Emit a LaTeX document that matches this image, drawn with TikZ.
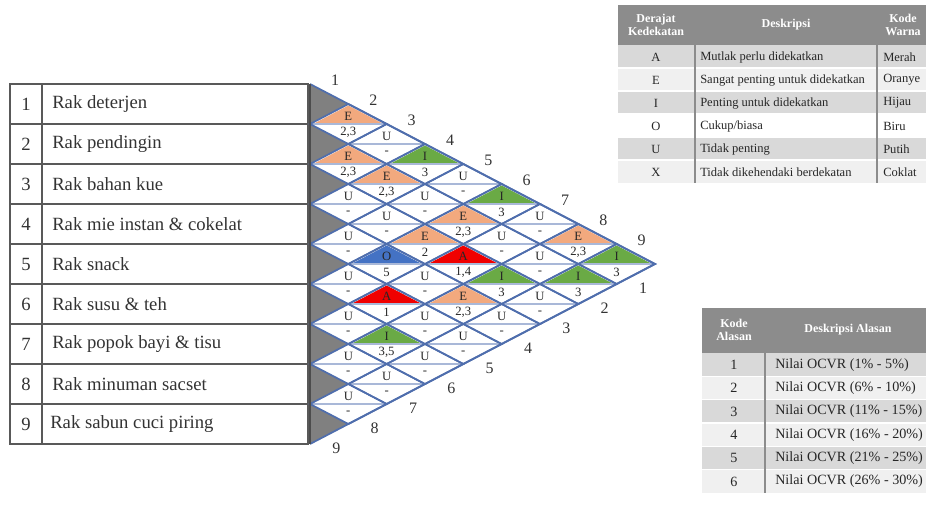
\documentclass[tikz,border=0pt]{standalone}
\usepackage{fontspec}
\setmainfont{Liberation Serif}
\usepackage{tikz}
\usetikzlibrary{calc, positioning}
\definecolor{ARCgrid}{HTML}{4F6EAD}
\definecolor{ARCmid}{HTML}{A9B8D8}
\definecolor{ARCshade}{HTML}{808080}
\definecolor{ARCa}{HTML}{F00000}
\definecolor{ARCe}{HTML}{F2A97E}
\definecolor{ARCi}{HTML}{6AAA45}
\definecolor{ARCo}{HTML}{4472C4}
\definecolor{TABhead}{HTML}{8C8C8C}
\definecolor{TABdark}{HTML}{D9D9D9}
\definecolor{TABlight}{HTML}{F0F0F0}
\tikzset{
  celltext/.style={inner sep=0pt, font=\fontsize{9.5}{10}\selectfont, text=black!85},
  raknum/.style={inner sep=0pt, font=\fontsize{14}{16}\selectfont, text=black!80},
  raktext/.style={raknum, anchor=west},
  edgenum/.style={inner sep=0pt, font=\fontsize{12}{14}\selectfont, text=black!80},
  tabline/.style={black!65, line width=1.1pt},
  leghead/.style={inner sep=0pt, align=center, text=white, font=\fontsize{9}{10}\selectfont\bfseries},
  legtext/.style={inner sep=0pt, font=\fontsize{9.4}{11}\selectfont, text=black!85},
  alasantext/.style={legtext, font=\fontsize{10.6}{12}\selectfont},
}
% one diamond of the chart: pair #1-#2, fill #3, degree #4, reason #5
\newcommand{\arcpair}[5]{%
  \begin{scope}[shift={({310+38.33*(#2-#1)},{84+20*(#1+#2-1)})}]
    \fill[#3] (-33,-1.2) -- (0,-18.5) -- (33,-1.2) -- cycle;
    \draw[ARCmid, line width=1.1pt] (-38.33,0) -- (38.33,0);
    \draw[ARCgrid, line width=1.3pt] (-38.33,0) -- (0,-20) -- (38.33,0) -- (0,20) -- cycle;
    \node[celltext] (deg#1#2) at (0,-8) {#4};
    \node[celltext] (rsn#1#2) at (0,8.5) {#5};
  \end{scope}}

\begin{document}
\begin{tikzpicture}[x=0.75pt, y=-0.75pt]
  \useasboundingbox (0,0) rectangle (926,519);

  % list of racks
  \draw[tabline] (10,84) rectangle (308,444);
  \draw[tabline] (42,84) -- (42,444);
  \draw[tabline] (10,124) -- (308,124) (10,164) -- (308,164) (10,204) -- (308,204)
    (10,244) -- (308,244) (10,284) -- (308,284) (10,324) -- (308,324)
    (10,364) -- (308,364) (10,404) -- (308,404);
  \node[raknum] (no1) at (26,104) {1};
  \node[raktext] (rak1) at (52,104) {Rak deterjen};
  \node[raknum] (no2) at (26,144) {2};
  \node[raktext] (rak2) at (52,144) {Rak pendingin};
  \node[raknum] (no3) at (26,184) {3};
  \node[raktext] (rak3) at (52,184) {Rak bahan kue};
  \node[raknum] (no4) at (26,224) {4};
  \node[raktext] (rak4) at (52,224) {Rak mie instan \& cokelat};
  \node[raknum] (no5) at (26,264) {5};
  \node[raktext] (rak5) at (52,264) {Rak snack};
  \node[raknum] (no6) at (26,304) {6};
  \node[raktext] (rak6) at (52,304) {Rak susu \& teh};
  \node[raknum] (no7) at (26,344) {7};
  \node[raktext] (rak7) at (52,344) {Rak popok bayi \& tisu};
  \node[raknum] (no8) at (26,384) {8};
  \node[raktext] (rak8) at (52,384) {Rak minuman sacset};
  \node[raknum] (no9) at (26,424) {9};
  \node[raktext] (rak9) at (50,424) {Rak sabun cuci piring};

  % shaded row tips
  \fill[ARCshade] (310,84) -- (348.33,104) -- (310,124) -- (348.33,144) -- (310,164)
    -- (348.33,184) -- (310,204) -- (348.33,224) -- (310,244) -- (348.33,264)
    -- (310,284) -- (348.33,304) -- (310,324) -- (348.33,344) -- (310,364)
    -- (348.33,384) -- (310,404) -- (348.33,424) -- (310,444) -- cycle;

  % relationship diamonds
  \arcpair{1}{2}{ARCe}{E}{2,3}
  \arcpair{1}{3}{white}{U}{-}
  \arcpair{1}{4}{ARCi}{I}{3}
  \arcpair{1}{5}{white}{U}{-}
  \arcpair{1}{6}{ARCi}{I}{3}
  \arcpair{1}{7}{white}{U}{-}
  \arcpair{1}{8}{ARCe}{E}{2,3}
  \arcpair{1}{9}{ARCi}{I}{3}
  \arcpair{2}{3}{ARCe}{E}{2,3}
  \arcpair{2}{4}{ARCe}{E}{2,3}
  \arcpair{2}{5}{white}{U}{-}
  \arcpair{2}{6}{ARCe}{E}{2,3}
  \arcpair{2}{7}{white}{U}{-}
  \arcpair{2}{8}{white}{U}{-}
  \arcpair{2}{9}{ARCi}{I}{3}
  \arcpair{3}{4}{white}{U}{-}
  \arcpair{3}{5}{white}{U}{-}
  \arcpair{3}{6}{ARCe}{E}{2}
  \arcpair{3}{7}{ARCa}{A}{1,4}
  \arcpair{3}{8}{ARCi}{I}{3}
  \arcpair{3}{9}{white}{U}{-}
  \arcpair{4}{5}{white}{U}{-}
  \arcpair{4}{6}{ARCo}{O}{5}
  \arcpair{4}{7}{white}{U}{-}
  \arcpair{4}{8}{ARCe}{E}{2,3}
  \arcpair{4}{9}{white}{U}{-}
  \arcpair{5}{6}{white}{U}{-}
  \arcpair{5}{7}{ARCa}{A}{1}
  \arcpair{5}{8}{white}{U}{-}
  \arcpair{5}{9}{white}{U}{-}
  \arcpair{6}{7}{white}{U}{-}
  \arcpair{6}{8}{ARCi}{I}{3,5}
  \arcpair{6}{9}{white}{U}{-}
  \arcpair{7}{8}{white}{U}{-}
  \arcpair{7}{9}{white}{U}{-}
  \arcpair{8}{9}{white}{U}{-}

  % outline of the chart
  \draw[ARCgrid, line width=1.3pt] (310,84) -- (348.33,104) (310,444) -- (348.33,424);
  \draw[ARCgrid, line width=1.4pt] (348.33,104) -- (655,264) -- (348.33,424);
  \draw[black!70, line width=1.1pt] (310,84) -- (310,444);

  % numbers along the edges
  \node[edgenum] (top1) at (335,80) {1};
  \node[edgenum] (top2) at (373.3,100) {2};
  \node[edgenum] (top3) at (411.7,120) {3};
  \node[edgenum] (top4) at (450,140) {4};
  \node[edgenum] (top5) at (488.3,160) {5};
  \node[edgenum] (top6) at (526.7,180) {6};
  \node[edgenum] (top7) at (565,200) {7};
  \node[edgenum] (top8) at (603.3,220) {8};
  \node[edgenum] (top9) at (641.7,240) {9};
  \node[edgenum] (bot1) at (643,288) {1};
  \node[edgenum] (bot2) at (604.7,308) {2};
  \node[edgenum] (bot3) at (566.3,328) {3};
  \node[edgenum] (bot4) at (528,348) {4};
  \node[edgenum] (bot5) at (489.7,368) {5};
  \node[edgenum] (bot6) at (451.3,388) {6};
  \node[edgenum] (bot7) at (413,408) {7};
  \node[edgenum] (bot8) at (374.7,428) {8};
  \node[edgenum] (bot9) at (336.3,448) {9};

  % legend of degrees
  \fill[TABhead] (618,5) rectangle (926,45);
  \fill[TABdark] (618,45) rectangle (926,68);
  \fill[TABlight] (618,68) rectangle (926,91);
  \fill[TABdark] (618,91) rectangle (926,114);
  \fill[white] (618,114) rectangle (926,137);
  \fill[TABdark] (618,137) rectangle (926,160);
  \fill[TABlight] (618,160) rectangle (926,183);
  \draw[white, line width=0.8pt] (618,68) -- (926,68) (618,91) -- (926,91) (618,114) -- (926,114)
    (618,137) -- (926,137) (618,160) -- (926,160);
  \draw[black!45, line width=0.8pt] (695,5) -- (695,183) (877,5) -- (877,183);
  \node[leghead] (hdeg) at (656,25) {Derajat\\Kedekatan};
  \node[leghead] (hdesc) at (786,25) {Deskripsi};
  \node[leghead] (hcol) at (903,25) {Kode\\Warna};
  \node[legtext] (dA) at (656,57) {A};
  \node[legtext, anchor=west] (tA) at (700,57) {Mutlak perlu didekatkan};
  \node[legtext, anchor=west] (cA) at (883,57) {Merah};
  \node[legtext] (dE) at (656,80) {E};
  \node[legtext, anchor=west] (tE) at (700,80) {Sangat penting untuk didekatkan};
  \node[legtext, anchor=west] (cE) at (883,80) {Oranye};
  \node[legtext] (dI) at (656,103) {I};
  \node[legtext, anchor=west] (tI) at (700,103) {Penting untuk didekatkan};
  \node[legtext, anchor=west] (cI) at (883,103) {Hijau};
  \node[legtext] (dO) at (656,126) {O};
  \node[legtext, anchor=west] (tO) at (700,126) {Cukup/biasa};
  \node[legtext, anchor=west] (cO) at (883,126) {Biru};
  \node[legtext] (dU) at (656,149) {U};
  \node[legtext, anchor=west] (tU) at (700,149) {Tidak penting};
  \node[legtext, anchor=west] (cU) at (883,149) {Putih};
  \node[legtext] (dX) at (656,172) {X};
  \node[legtext, anchor=west] (tX) at (700,172) {Tidak dikehendaki berdekatan};
  \node[legtext, anchor=west] (cX) at (883,172) {Coklat};

  % legend of reasons
  \fill[TABhead] (702,308) rectangle (926,353);
  \fill[TABdark] (702,353) rectangle (926,376.3);
  \fill[TABlight] (702,376.3) rectangle (926,399.7);
  \fill[TABdark] (702,399.7) rectangle (926,423);
  \fill[TABlight] (702,423) rectangle (926,446.3);
  \fill[TABdark] (702,446.3) rectangle (926,469.7);
  \fill[TABlight] (702,469.7) rectangle (926,493);
  \draw[white, line width=0.8pt] (702,376.3) -- (926,376.3) (702,399.7) -- (926,399.7)
    (702,423) -- (926,423) (702,446.3) -- (926,446.3) (702,469.7) -- (926,469.7);
  \draw[black!45, line width=0.8pt] (765,308) -- (765,493);
  \node[leghead] (hkode) at (734,330) {Kode\\Alasan};
  \node[leghead] (halasan) at (848,330) {Deskripsi Alasan};
  \node[alasantext] (k1) at (734,365) {1};
  \node[alasantext, anchor=west] (a1) at (775,365) {Nilai OCVR (1\% - 5\%)};
  \node[alasantext] (k2) at (734,388) {2};
  \node[alasantext, anchor=west] (a2) at (775,388) {Nilai OCVR (6\% - 10\%)};
  \node[alasantext] (k3) at (734,411.5) {3};
  \node[alasantext, anchor=west] (a3) at (775,411.5) {Nilai OCVR (11\% - 15\%)};
  \node[alasantext] (k4) at (734,435) {4};
  \node[alasantext, anchor=west] (a4) at (775,435) {Nilai OCVR (16\% - 20\%)};
  \node[alasantext] (k5) at (734,458) {5};
  \node[alasantext, anchor=west] (a5) at (775,458) {Nilai OCVR (21\% - 25\%)};
  \node[alasantext] (k6) at (734,481.5) {6};
  \node[alasantext, anchor=west] (a6) at (775,481.5) {Nilai OCVR (26\% - 30\%)};
\end{tikzpicture}
\end{document}
